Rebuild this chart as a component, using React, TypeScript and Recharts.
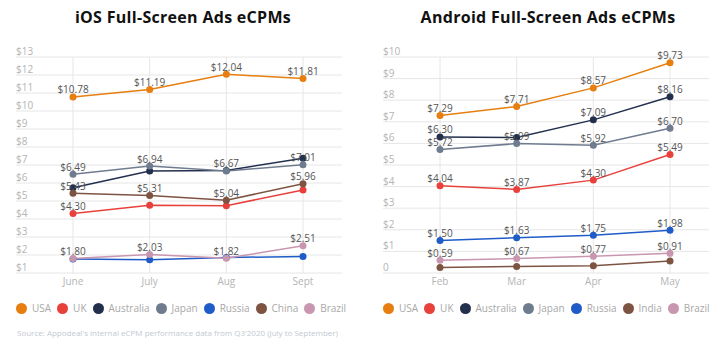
import React from 'react';
import { LineChart, Line, XAxis, YAxis, CartesianGrid, LabelList, ReferenceLine } from 'recharts';

// categories
const IOS_MONTHS = ['June', 'July', 'Aug', 'Sept'];
const ANDROID_MONTHS = ['Feb', 'Mar', 'Apr', 'May'];

// iOS eCPMs ($)
const IOS_USA = [10.78, 11.19, 12.04, 11.81];
const IOS_UK = [4.3, 4.77, 4.74, 5.61];
const IOS_AUSTRALIA = [5.74, 6.67, 6.69, 7.38];
const IOS_JAPAN = [6.49, 6.94, 6.67, 7.01];
const IOS_RUSSIA = [1.78, 1.74, 1.86, 1.92];
const IOS_CHINA = [5.43, 5.31, 5.04, 5.96];
const IOS_BRAZIL = [1.8, 2.03, 1.82, 2.51];

// Android eCPMs ($)
const AND_USA = [7.29, 7.71, 8.57, 9.73];
const AND_UK = [4.04, 3.87, 4.3, 5.49];
const AND_AUSTRALIA = [6.3, 6.27, 7.09, 8.16];
const AND_JAPAN = [5.72, 5.99, 5.92, 6.7];
const AND_RUSSIA = [1.5, 1.63, 1.75, 1.98];
const AND_INDIA = [0.26, 0.3, 0.34, 0.56];
const AND_BRAZIL = [0.59, 0.67, 0.77, 0.91];

// which points carry a value label
const ALL = [true, true, true, true];
const NONE = [false, false, false, false];
const FIRST_ONLY = [true, false, false, false];
const SKIP_SECOND = [true, false, true, true];

// y tick labels
const IOS_TICKS = [1, 2, 3, 4, 5, 6, 7, 8, 9, 10, 11, 12, 13];
const IOS_TICK_LABELS = ['$1', '$2', '$3', '$4', '$5', '$6', '$7', '$8', '$9', '$10', '$11', '$12', '$13'];
const AND_TICKS = [0, 1, 2, 3, 4, 5, 6, 7, 8, 9, 10];
const AND_TICK_LABELS = ['0', '$1', '$2', '$3', '$4', '$5', '$6', '$7', '$8', '$9', '$10'];

const COLORS = {
  usa: '#E67E10',
  uk: '#E8413C',
  australia: '#22304E',
  japan: '#6F7C8F',
  russia: '#1F5CC8',
  brown: '#7D5442',
  brazil: '#C996B0',
};

const FONT = '"Open Sans", sans-serif';
const GRID = '#E6E6E6';

type Series = { key: string; name: string; color: string; values: number[]; labels: boolean[] };

const iosSeries: Series[] = [
  { key: 'usa', name: 'USA', color: COLORS.usa, values: IOS_USA, labels: ALL },
  { key: 'uk', name: 'UK', color: COLORS.uk, values: IOS_UK, labels: FIRST_ONLY },
  { key: 'australia', name: 'Australia', color: COLORS.australia, values: IOS_AUSTRALIA, labels: NONE },
  { key: 'japan', name: 'Japan', color: COLORS.japan, values: IOS_JAPAN, labels: ALL },
  { key: 'russia', name: 'Russia', color: COLORS.russia, values: IOS_RUSSIA, labels: NONE },
  { key: 'china', name: 'China', color: COLORS.brown, values: IOS_CHINA, labels: ALL },
  { key: 'brazil', name: 'Brazil', color: COLORS.brazil, values: IOS_BRAZIL, labels: ALL },
];

const androidSeries: Series[] = [
  { key: 'usa', name: 'USA', color: COLORS.usa, values: AND_USA, labels: ALL },
  { key: 'uk', name: 'UK', color: COLORS.uk, values: AND_UK, labels: ALL },
  { key: 'australia', name: 'Australia', color: COLORS.australia, values: AND_AUSTRALIA, labels: SKIP_SECOND },
  { key: 'japan', name: 'Japan', color: COLORS.japan, values: AND_JAPAN, labels: ALL },
  { key: 'russia', name: 'Russia', color: COLORS.russia, values: AND_RUSSIA, labels: ALL },
  { key: 'india', name: 'India', color: COLORS.brown, values: AND_INDIA, labels: NONE },
  { key: 'brazil', name: 'Brazil', color: COLORS.brazil, values: AND_BRAZIL, labels: ALL },
];

function buildRows(months: string[], series: Series[]) {
  return months.map((m, i) => {
    const row: Record<string, string | number> = { month: m };
    series.forEach((s) => {
      row[s.key] = s.values[i];
    });
    return row;
  });
}

function Legend({ series }: { series: Series[] }) {
  return (
    <div style={{ display: 'flex', alignItems: 'center', fontFamily: FONT, fontSize: 10, color: '#A8A8A8' }}>
      {series.map((s) => (
        <div key={s.key} style={{ display: 'flex', alignItems: 'center', marginRight: 6 }}>
          <span
            style={{
              width: 11,
              height: 11,
              borderRadius: '50%',
              background: s.color,
              display: 'inline-block',
              marginRight: 5,
            }}
          />
          <span>{s.name}</span>
        </div>
      ))}
    </div>
  );
}

interface PanelProps {
  title: string;
  months: string[];
  series: Series[];
  ticks: number[];
  tickLabels: string[];
  left: number;
  titleCenter: number;
}

function Panel({ title, months, series, ticks, tickLabels, left, titleCenter }: PanelProps) {
  const rows = buildRows(months, series);

  const renderYTick = (props: any) => {
    const idx = ticks.indexOf(props.payload.value);
    return (
      <text x={16} y={props.y - 2} textAnchor="start" fontSize={10} fill="#B4B4B4" fontFamily={FONT}>
        {tickLabels[idx]}
      </text>
    );
  };

  return (
    <>
      <div
        style={{
          position: 'absolute',
          top: 6,
          left: titleCenter - 150,
          width: 300,
          textAlign: 'center',
          fontFamily: FONT,
          fontWeight: 700,
          fontSize: 16,
          letterSpacing: 0.3,
          color: '#111',
        }}
      >
        {title}
      </div>
      <div style={{ position: 'absolute', left, top: 0 }}>
        <LineChart width={358} height={300} data={rows} margin={{ top: 57, right: 16, left: 0, bottom: 7 }}>
          <CartesianGrid stroke={GRID} strokeWidth={1} vertical={false} />
          {/* vertical grid only at the month positions */}
          {months.map((m) => (
            <ReferenceLine key={m} x={m} stroke={GRID} strokeWidth={1} />
          ))}
          <XAxis
            dataKey="month"
            padding={{ left: 57, right: 39 }}
            axisLine={false}
            tickLine={false}
            tickSize={0}
            tickMargin={5}
            height={20}
            tick={{ fontSize: 10, fill: '#B4B4B4', fontFamily: FONT }}
          />
          <YAxis
            width={16}
            domain={[ticks[0], ticks[ticks.length - 1]]}
            ticks={ticks}
            interval={0}
            axisLine={false}
            tickLine={false}
            tick={renderYTick}
          />
          {series.map((s) => (
            <Line
              key={s.key}
              dataKey={s.key}
              name={s.name}
              type="linear"
              stroke={s.color}
              strokeWidth={1.5}
              dot={{ r: 3.5, fill: s.color, stroke: s.color, strokeWidth: 0 }}
              isAnimationActive={false}
            >
              <LabelList
                dataKey={s.key}
                content={(p: any) =>
                  s.labels[p.index] ? (
                    <text
                      x={p.x}
                      y={p.y - 3.5}
                      textAnchor="middle"
                      fontSize={10}
                      fill="#555"
                      fontFamily={FONT}
                    >
                      {'$' + Number(p.value).toFixed(2)}
                    </text>
                  ) : null
                }
              />
            </Line>
          ))}
        </LineChart>
      </div>
      <div style={{ position: 'absolute', left: left + 16, top: 301 }}>
        <Legend series={series} />
      </div>
    </>
  );
}

export default function App() {
  return (
    <div style={{ position: 'absolute', left: 0, top: 0, width: 717, height: 351, background: '#fff', overflow: 'hidden' }}>
      <Panel
        title="iOS Full-Screen Ads eCPMs"
        months={IOS_MONTHS}
        series={iosSeries}
        ticks={IOS_TICKS}
        tickLabels={IOS_TICK_LABELS}
        left={0}
        titleCenter={183}
      />
      <Panel
        title="Android Full-Screen Ads eCPMs"
        months={ANDROID_MONTHS}
        series={androidSeries}
        ticks={AND_TICKS}
        tickLabels={AND_TICK_LABELS}
        left={367}
        titleCenter={548}
      />
      <div
        style={{
          position: 'absolute',
          left: 17,
          top: 327,
          fontFamily: FONT,
          fontSize: 8,
          color: '#C3C8D2',
          whiteSpace: 'nowrap',
        }}
      >
        Source: Appodeal's internal eCPM performance data from Q3'2020 (July to September)
      </div>
    </div>
  );
}
